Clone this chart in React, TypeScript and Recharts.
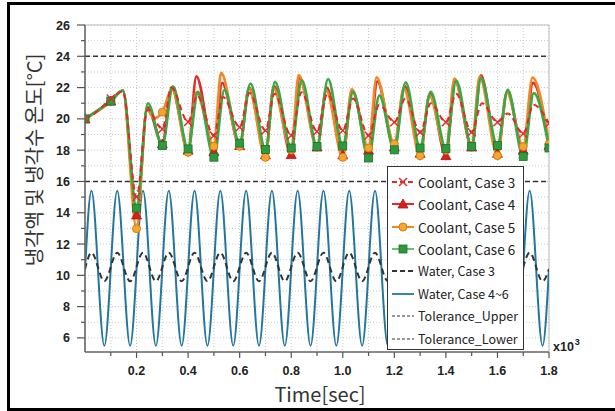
import React from 'react';
import { LineChart, Line, XAxis, YAxis, CartesianGrid, ReferenceLine } from 'recharts';

const W = 615;
const H = 411;

// [time (x10^3 sec), temperature (°C)]
const coolantCase3: [number, number][] = [
  [0, 20], [0.05, 20.5], [0.1, 21.3], [0.147, 21.75], [0.2, 15.0], [0.242, 20.6], [0.3, 19.36],
  [0.335, 22.0], [0.4, 19.8], [0.435, 21.5], [0.5, 18.93], [0.535, 21.4], [0.6, 19.47],
  [0.638, 21.65], [0.7, 19.26], [0.735, 21.6], [0.8, 18.93], [0.84, 21.7], [0.9, 19.2],
  [0.94, 21.6], [1.0, 19.26], [1.04, 21.3], [1.1, 18.93], [1.142, 20.9], [1.2, 19.79],
  [1.243, 21.3], [1.3, 19.15], [1.342, 21.0], [1.4, 19.79], [1.44, 21.6], [1.5, 19.15],
  [1.54, 21.0], [1.6, 19.79], [1.64, 20.35], [1.7, 19.05], [1.74, 20.9], [1.8, 19.7],
];

const coolantCase4: [number, number][] = [
  [0, 20], [0.1, 21.14], [0.147, 21.8], [0.2, 13.86], [0.242, 20.75], [0.3, 18.4],
  [0.336, 22.0], [0.4, 18.0], [0.432, 22.72], [0.5, 17.9], [0.532, 22.3], [0.6, 18.3],
  [0.637, 22.0], [0.7, 17.7], [0.733, 22.1], [0.8, 17.72], [0.833, 22.6], [0.9, 18.2],
  [0.938, 22.0], [1.0, 17.7], [1.037, 21.8], [1.1, 18.0], [1.134, 22.4], [1.2, 18.2],
  [1.24, 22.1], [1.3, 17.8], [1.338, 21.6], [1.4, 17.65], [1.436, 22.4], [1.5, 18.2],
  [1.536, 22.78], [1.6, 17.8], [1.638, 21.75], [1.7, 18.0], [1.738, 22.3], [1.8, 18.3],
];

const coolantCase5: [number, number][] = [
  [0, 20], [0.1, 21.1], [0.147, 21.8], [0.2, 12.98], [0.24, 20.6], [0.268, 20.05], [0.3, 20.43],
  [0.338, 21.9], [0.4, 17.86], [0.432, 21.7], [0.5, 18.25], [0.528, 22.94], [0.6, 18.25],
  [0.636, 21.95], [0.7, 17.54], [0.731, 21.95], [0.8, 18.0], [0.829, 22.8], [0.9, 18.2],
  [0.936, 21.8], [1.0, 17.54], [1.035, 21.9], [1.1, 18.14], [1.131, 22.65], [1.2, 18.4],
  [1.237, 21.95], [1.3, 17.65], [1.336, 21.5], [1.4, 18.0], [1.433, 22.58], [1.5, 18.3],
  [1.531, 22.7], [1.6, 17.65], [1.636, 21.7], [1.7, 18.23], [1.736, 22.64], [1.8, 18.4],
];

const coolantCase6: [number, number][] = [
  [0, 20], [0.1, 21.14], [0.147, 21.8], [0.2, 14.3], [0.244, 21.0], [0.3, 18.3],
  [0.341, 22.08], [0.4, 18.08], [0.438, 21.72], [0.5, 17.55], [0.541, 21.85], [0.6, 18.45],
  [0.642, 22.26], [0.7, 18.05], [0.737, 22.36], [0.8, 18.14], [0.841, 22.47], [0.9, 18.23],
  [0.943, 22.55], [1.0, 18.27], [1.04, 21.72], [1.1, 17.5], [1.142, 21.5], [1.2, 18.02],
  [1.244, 22.33], [1.3, 18.14], [1.341, 21.72], [1.4, 18.1], [1.44, 22.45], [1.5, 18.23],
  [1.536, 22.6], [1.6, 18.29], [1.64, 21.85], [1.7, 17.6], [1.741, 21.65], [1.8, 18.14],
];

const waterCase3: [number, number][] = [
  [0, 10.4], [0.025, 11.45], [0.075, 9.62], [0.125, 11.45], [0.175, 9.62], [0.225, 11.45],
  [0.275, 9.62], [0.325, 11.45], [0.375, 9.62], [0.425, 11.45], [0.475, 9.62], [0.525, 11.45],
  [0.575, 9.62], [0.625, 11.45], [0.675, 9.62], [0.725, 11.45], [0.775, 9.62], [0.825, 11.45],
  [0.875, 9.62], [0.925, 11.45], [0.975, 9.62], [1.025, 11.45], [1.075, 9.62], [1.125, 11.45],
  [1.175, 9.62], [1.225, 11.45], [1.275, 9.62], [1.325, 11.45], [1.375, 9.62], [1.425, 11.45],
  [1.475, 9.62], [1.525, 11.45], [1.575, 9.62], [1.625, 11.45], [1.675, 9.62], [1.725, 11.45],
  [1.775, 9.62], [1.8, 10.4],
];

const waterCase46: [number, number][] = [
  [0, 10.3], [0.025, 15.4], [0.075, 5.5], [0.125, 15.4], [0.175, 5.5], [0.225, 15.4],
  [0.275, 5.5], [0.325, 15.4], [0.375, 5.5], [0.425, 15.4], [0.475, 5.5], [0.525, 15.4],
  [0.575, 5.5], [0.625, 15.4], [0.675, 5.5], [0.725, 15.4], [0.775, 5.5], [0.825, 15.4],
  [0.875, 5.5], [0.925, 15.4], [0.975, 5.5], [1.025, 15.4], [1.075, 5.5], [1.125, 15.4],
  [1.175, 5.5], [1.225, 15.4], [1.275, 5.5], [1.325, 15.4], [1.375, 5.5], [1.425, 15.4],
  [1.475, 5.5], [1.525, 15.4], [1.575, 5.5], [1.625, 15.4], [1.675, 5.5], [1.725, 15.4],
  [1.775, 5.5], [1.8, 10.4],
];

const toleranceUpper = 24;
const toleranceLower = 16;

const xTicks = [0.1, 0.2, 0.3, 0.4, 0.5, 0.6, 0.7, 0.8, 0.9, 1.0, 1.1, 1.2, 1.3, 1.4, 1.5, 1.6, 1.7, 1.8];
const yTicks = [6, 7, 8, 9, 10, 11, 12, 13, 14, 15, 16, 17, 18, 19, 20, 21, 22, 23, 24, 25, 26];

const xTitle = 'Time[sec]';
const yTitle = '냉각액 및 냉각수 온도[°C]';

const legendLabels = [
  'Coolant, Case 3',
  'Coolant, Case 4',
  'Coolant, Case 5',
  'Coolant, Case 6',
  'Water, Case 3',
  'Water, Case 4~6',
  'Tolerance_Upper',
  'Tolerance_Lower',
];

const RED = '#e32a2a';
const ORANGE = '#f0882a';
const GREEN = '#3aa845';
const BLUE = '#23779d';
const DARK = '#333333';

const toPoints = (arr: [number, number][]) => arr.map(([t, v]) => ({ t, v }));

const isMarkerTime = (t: number) => Math.abs(t * 10 - Math.round(t * 10)) < 1e-6;

type MarkerKind = 'x' | 'triangle' | 'circle' | 'square';

const Marker = ({ kind, cx, cy }: { kind: MarkerKind; cx: number; cy: number }) => {
  if (kind === 'x') {
    return (
      <g stroke={RED} strokeWidth={1.4}>
        <line x1={cx - 4} y1={cy - 4} x2={cx + 4} y2={cy + 4} />
        <line x1={cx - 4} y1={cy + 4} x2={cx + 4} y2={cy - 4} />
      </g>
    );
  }
  if (kind === 'triangle') {
    return <polygon points={`${cx},${cy - 5} ${cx - 5},${cy + 4} ${cx + 5},${cy + 4}`} fill="#d81e1e" stroke="#b51414" strokeWidth={0.8} />;
  }
  if (kind === 'circle') {
    return <circle cx={cx} cy={cy} r={4} fill="#f4a62e" stroke="#d97a12" strokeWidth={1} />;
  }
  return <rect x={cx - 4} y={cy - 4} width={8} height={8} fill="#2f9a3d" stroke="#1d6e2a" strokeWidth={0.8} />;
};

const makeDot = (kind: MarkerKind) => (props: any) => {
  const { cx, cy, payload, index } = props;
  if (!payload || !isMarkerTime(payload.t) || cx == null || cy == null) return <g key={`d-${index}`} />;
  return (
    <g key={`d-${index}`}>
      <Marker kind={kind} cx={cx} cy={cy} />
    </g>
  );
};

const TICK_FONT = '"Liberation Sans", Arial, sans-serif';

const XTick = (props: any) => {
  const { x, y, payload } = props;
  const v = payload.value as number;
  const major = Math.abs(v * 5 - Math.round(v * 5)) < 1e-6;
  return (
    <g>
      <line x1={x} x2={x} y1={y} y2={y + (major ? 6 : 4)} stroke="#555" strokeWidth={1.2} />
      {major && (
        <text x={x} y={y + 23} textAnchor="middle" fontSize={12.5} fontWeight="bold" fontFamily={TICK_FONT} fill="#222">
          {v.toFixed(1)}
        </text>
      )}
    </g>
  );
};

const YTick = (props: any) => {
  const { x, y, payload } = props;
  const v = payload.value as number;
  const major = v % 2 === 0;
  return (
    <g>
      <line x1={x - (major ? 8 : 4)} x2={x} y1={y} y2={y} stroke="#555" strokeWidth={1.2} />
      {major && (
        <text x={x - 15} y={y + 4.5} textAnchor="end" fontSize={12.5} fontWeight="bold" fontFamily={TICK_FONT} fill="#222">
          {v}
        </text>
      )}
    </g>
  );
};

const LegendSymbol = ({ i }: { i: number }) => {
  const w = 22;
  const c = 8;
  switch (i) {
    case 0:
      return (
        <svg width={w} height={16}>
          <line x1={0} y1={c} x2={w} y2={c} stroke={RED} strokeWidth={2} strokeDasharray="5 3" />
          <Marker kind="x" cx={w / 2} cy={c} />
        </svg>
      );
    case 1:
      return (
        <svg width={w} height={16}>
          <line x1={0} y1={c} x2={w} y2={c} stroke={RED} strokeWidth={2} />
          <Marker kind="triangle" cx={w / 2} cy={c} />
        </svg>
      );
    case 2:
      return (
        <svg width={w} height={16}>
          <line x1={0} y1={c} x2={w} y2={c} stroke={ORANGE} strokeWidth={2} />
          <Marker kind="circle" cx={w / 2} cy={c} />
        </svg>
      );
    case 3:
      return (
        <svg width={w} height={16}>
          <line x1={0} y1={c} x2={w} y2={c} stroke={GREEN} strokeWidth={1.5} />
          <Marker kind="square" cx={w / 2} cy={c} />
        </svg>
      );
    case 4:
      return (
        <svg width={w} height={16}>
          <line x1={0} y1={c} x2={w} y2={c} stroke={DARK} strokeWidth={1.8} strokeDasharray="5 3" />
        </svg>
      );
    case 5:
      return (
        <svg width={w} height={16}>
          <line x1={0} y1={c} x2={w} y2={c} stroke={BLUE} strokeWidth={1.8} />
        </svg>
      );
    default:
      return (
        <svg width={w} height={16}>
          <line x1={0} y1={c} x2={w} y2={c} stroke={DARK} strokeWidth={1} strokeDasharray="3 2" />
        </svg>
      );
  }
};

const ChartLegend = () => (
  <div
    style={{
      position: 'absolute',
      left: 387,
      top: 166,
      width: 137,
      height: 184,
      boxSizing: 'border-box',
      border: '1px solid #333',
      background: '#fff',
    }}
  >
    {legendLabels.map((label, i) => (
      <div
        key={label}
        style={{
          position: 'absolute',
          left: 4,
          top: 14.7 + i * 22.4 - 9,
          height: 18,
          display: 'flex',
          alignItems: 'center',
          whiteSpace: 'nowrap',
        }}
      >
        <LegendSymbol i={i} />
        <span
          style={{
            marginLeft: 4,
            fontFamily: '"Noto Sans CJK KR", "Noto Sans", sans-serif',
            fontSize: i < 4 ? 13.5 : 12.5,
            color: '#222',
            lineHeight: '18px',
          }}
        >
          {label}
        </span>
      </div>
    ))}
  </div>
);

export default function App() {
  return (
    <div style={{ position: 'absolute', left: 0, top: 0, width: W, height: H, background: '#fff', overflow: 'hidden' }}>
      <div
        style={{
          position: 'absolute',
          left: 7,
          top: 2,
          width: 608,
          height: 409,
          boxSizing: 'border-box',
          borderLeft: '3px solid #000',
          borderTop: '3px solid #000',
          borderBottom: '3px solid #000',
        }}
      />
      <div style={{ position: 'absolute', left: 0, top: 0 }}>
        <LineChart width={W} height={H} margin={{ top: 25, right: 66, bottom: 49, left: 75 }}>
          <CartesianGrid stroke="#c9c9c9" strokeDasharray="1 2" strokeWidth={1} />
          <XAxis
            type="number"
            dataKey="t"
            domain={[0, 1.8]}
            ticks={xTicks}
            interval={0}
            height={10}
            tickSize={0}
            tickMargin={0}
            tickLine={false}
            tick={<XTick />}
            axisLine={{ stroke: '#666', strokeWidth: 1.6 }}
            allowDataOverflow
          />
          <YAxis
            type="number"
            dataKey="v"
            domain={[5.1, 26]}
            ticks={yTicks}
            interval={0}
            width={10}
            tickSize={0}
            tickMargin={0}
            tickLine={false}
            tick={<YTick />}
            axisLine={{ stroke: '#666', strokeWidth: 1.6 }}
            allowDataOverflow
          />
          <ReferenceLine y={26} stroke="#bdbdbd" strokeWidth={1} />
          <ReferenceLine x={1.8} stroke="#bdbdbd" strokeWidth={1} />
          <ReferenceLine y={toleranceUpper} stroke={DARK} strokeWidth={1.5} strokeDasharray="5 3" />
          <ReferenceLine y={toleranceLower} stroke={DARK} strokeWidth={1.5} strokeDasharray="5 3" />
          <Line
            data={toPoints(waterCase46)}
            dataKey="v"
            type="monotone"
            stroke={BLUE}
            strokeWidth={2}
            dot={false}
            isAnimationActive={false}
          />
          <Line
            data={toPoints(waterCase3)}
            dataKey="v"
            type="monotone"
            stroke={DARK}
            strokeWidth={2}
            strokeDasharray="6 4"
            dot={false}
            isAnimationActive={false}
          />
          <Line
            data={toPoints(coolantCase4)}
            dataKey="v"
            type="monotone"
            stroke={RED}
            strokeWidth={2.7}
            dot={makeDot('triangle')}
            isAnimationActive={false}
          />
          <Line
            data={toPoints(coolantCase5)}
            dataKey="v"
            type="monotone"
            stroke={ORANGE}
            strokeWidth={2.7}
            dot={makeDot('circle')}
            isAnimationActive={false}
          />
          <Line
            data={toPoints(coolantCase6)}
            dataKey="v"
            type="monotone"
            stroke={GREEN}
            strokeWidth={2.7}
            dot={makeDot('square')}
            isAnimationActive={false}
          />
          <Line
            data={toPoints(coolantCase3)}
            dataKey="v"
            type="monotone"
            stroke={RED}
            strokeWidth={2}
            strokeDasharray="6 4"
            dot={makeDot('x')}
            isAnimationActive={false}
          />
        </LineChart>
      </div>
      <ChartLegend />
      <div
        style={{
          position: 'absolute',
          left: 33,
          top: 160,
          transform: 'translate(-50%, -50%) rotate(-90deg)',
          whiteSpace: 'nowrap',
          fontFamily: '"Noto Sans CJK KR", sans-serif',
          fontSize: 20,
          color: '#333',
        }}
      >
        {yTitle}
      </div>
      <div
        style={{
          position: 'absolute',
          left: 320,
          top: 393,
          transform: 'translate(-50%, -50%)',
          whiteSpace: 'nowrap',
          fontFamily: '"Noto Sans CJK KR", sans-serif',
          fontSize: 20,
          color: '#333',
        }}
      >
        {xTitle}
      </div>
      <div
        style={{
          position: 'absolute',
          left: 553,
          top: 340,
          whiteSpace: 'nowrap',
          fontFamily: TICK_FONT,
          fontWeight: 'bold',
          fontSize: 12.5,
          color: '#222',
        }}
      >
        x10<sup style={{ fontSize: 9, verticalAlign: 'top', position: 'relative', top: -3, marginLeft: 1 }}>3</sup>
      </div>
    </div>
  );
}
